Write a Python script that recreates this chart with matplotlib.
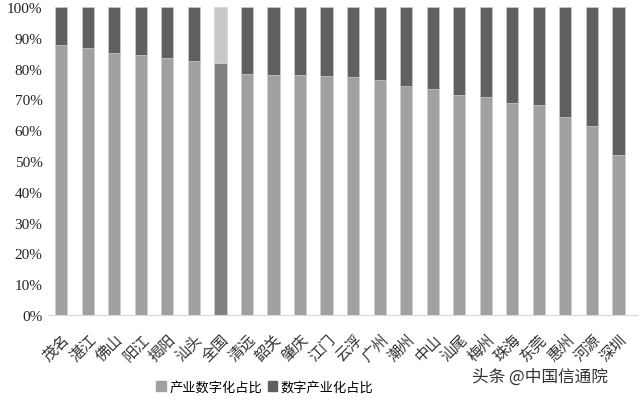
import matplotlib.pyplot as plt
import numpy as np
from matplotlib.patches import Patch

plt.rcParams['font.family'] = ['Liberation Serif', 'Noto Sans CJK SC']

cities = ['茂名', '湛江', '佛山', '阳江', '揭阳', '汕头', '全国', '清远', '韶关', '肇庆', '江门',
          '云浮', '广州', '潮州', '中山', '汕尾', '梅州', '珠海', '东莞', '惠州', '河源', '深圳']
# 产业数字化占比 (%)
industry_digital = [87.7, 86.8, 85.1, 84.3, 83.4, 82.4, 81.9, 78.2, 78.0, 77.8, 77.7,
                    77.3, 76.3, 74.4, 73.5, 71.3, 70.8, 68.9, 68.2, 64.2, 61.3, 51.8]
digital_industry = [100 - v for v in industry_digital]

x = np.arange(len(cities))
c_low = ['#808080' if c == '全国' else '#a0a0a0' for c in cities]
c_high = ['#c8c8c8' if c == '全国' else '#606060' for c in cities]

fig = plt.figure(figsize=(6.4, 4.02), dpi=100)
ax = fig.add_axes([48 / 640, 1 - 316 / 402, 589 / 640, 308 / 402])

ax.bar(x, industry_digital, width=0.46, color=c_low, edgecolor='#d0d0d0', linewidth=0.4)
ax.bar(x, digital_industry, width=0.46, bottom=industry_digital, color=c_high,
       edgecolor='#d0d0d0', linewidth=0.4)

ax.set_ylim(0, 100)
ax.set_xlim(-0.5, len(cities) - 0.3)
ax.set_yticks(range(0, 101, 10))
ax.set_yticklabels([f'{v}%' for v in range(0, 101, 10)], fontsize=11, color='#222222')
ax.set_xticks(x)
ax.set_xticklabels(cities, rotation=45, ha='right', va='top', fontsize=11,
                   family=['Noto Sans CJK SC'], color='#333333', rotation_mode='anchor')
ax.tick_params(axis='y', length=0, pad=4)
ax.tick_params(axis='x', length=0, pad=11)
for s in ['top', 'right', 'left']:
    ax.spines[s].set_visible(False)
ax.spines['bottom'].set_color('#d9d9d9')

handles = [Patch(color='#a0a0a0', label='产业数字化占比'),
           Patch(color='#606060', label='数字产业化占比')]
fig.legend(handles=handles, loc='center', bbox_to_anchor=(265 / 640, 1 - 388 / 402), ncol=2,
           frameon=False, prop={'family': 'Noto Sans CJK SC', 'size': 9.5},
           handlelength=0.7, handleheight=0.7, handletextpad=0.3, columnspacing=0.4)

fig.text(540 / 640, 1 - 377 / 402, '头条 @中国信通院', ha='center', va='center',
         fontsize=12, family=['Noto Sans CJK SC'], color='#333333')

fig.savefig('out.png', dpi=100)
